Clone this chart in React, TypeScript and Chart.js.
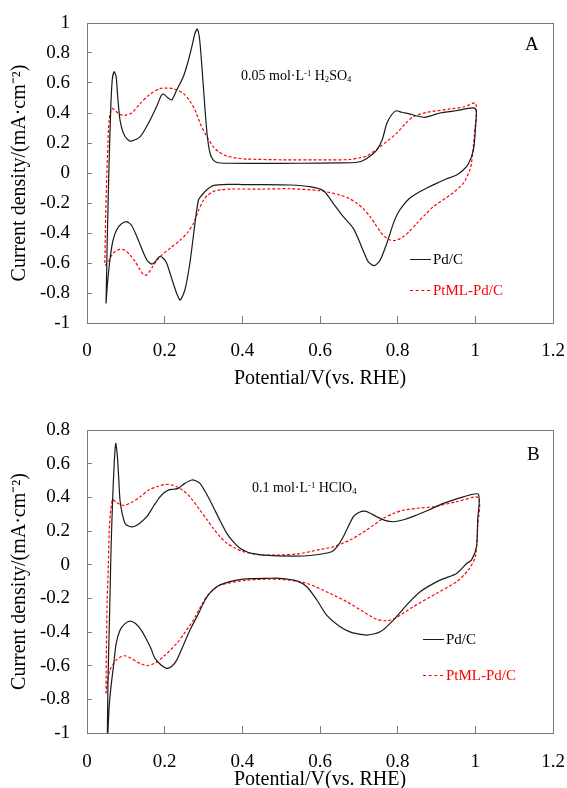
import React, { useEffect, useRef } from "react";
import { Chart, registerables } from "chart.js";
Chart.register(...registerables);

// ---------- Panel A: 0.05 mol/L H2SO4 ----------
const A_PD_V = [0.049, 0.052, 0.056, 0.061, 0.065, 0.070, 0.075, 0.079, 0.085, 0.094, 0.106, 0.115, 0.137, 0.158, 0.179, 0.192, 0.197, 0.207, 0.218, 0.231, 0.248, 0.26, 0.27, 0.278, 0.284, 0.29, 0.297, 0.304, 0.31, 0.317, 0.325, 0.335, 0.36, 0.45, 0.55, 0.65, 0.69, 0.707, 0.725, 0.746, 0.76, 0.772, 0.785, 0.797, 0.81, 0.832, 0.85, 0.87, 0.89, 0.909, 0.95, 1.0,
  1.0, 0.995, 0.982, 0.969, 0.952, 0.925, 0.90, 0.875, 0.849, 0.83, 0.815, 0.80, 0.789, 0.772, 0.755, 0.74, 0.724, 0.707, 0.686, 0.66, 0.634, 0.609, 0.574, 0.523, 0.45, 0.4, 0.368, 0.325, 0.308, 0.295, 0.287, 0.278, 0.265, 0.252, 0.24, 0.232, 0.222, 0.205, 0.195, 0.186, 0.176, 0.167, 0.154, 0.132, 0.115, 0.102, 0.088, 0.076, 0.066, 0.059, 0.053, 0.049];
const A_PD_J = [-0.87, -0.47, -0.02, 0.42, 0.62, 0.675, 0.642, 0.509, 0.353, 0.264, 0.22, 0.213, 0.242, 0.331, 0.442, 0.52, 0.527, 0.504, 0.487, 0.553, 0.642, 0.74, 0.842, 0.93, 0.96, 0.89, 0.67, 0.42, 0.242, 0.13, 0.087, 0.07, 0.065, 0.064, 0.065, 0.067, 0.07, 0.078, 0.105, 0.153, 0.22, 0.33, 0.39, 0.415, 0.405, 0.393, 0.38, 0.371, 0.385, 0.40, 0.415, 0.43,
  0.29, 0.153, 0.06, 0.02, -0.013, -0.04, -0.069, -0.1, -0.136, -0.17, -0.213, -0.27, -0.336, -0.469, -0.58, -0.618, -0.591, -0.491, -0.369, -0.291, -0.202, -0.118, -0.091, -0.08, -0.077, -0.077, -0.076, -0.084, -0.113, -0.15, -0.18, -0.336, -0.60, -0.78, -0.847, -0.81, -0.735, -0.60, -0.565, -0.558, -0.59, -0.607, -0.58, -0.447, -0.35, -0.324, -0.34, -0.38, -0.46, -0.58, -0.73, -0.87];

const A_PT_V = [0.046, 0.048, 0.051, 0.054, 0.057, 0.064, 0.075, 0.085, 0.098, 0.115, 0.137, 0.16, 0.188, 0.205, 0.222, 0.248, 0.265, 0.278, 0.29, 0.304, 0.325, 0.34, 0.36, 0.385, 0.411, 0.5, 0.626, 0.677, 0.70, 0.72, 0.755, 0.797, 0.82, 0.84, 0.875, 0.935, 0.97, 1.001,
  0.997, 0.99, 0.986, 0.969, 0.935, 0.892, 0.87, 0.849, 0.83, 0.815, 0.80, 0.789, 0.776, 0.765, 0.755, 0.742, 0.729, 0.712, 0.695, 0.675, 0.652, 0.60, 0.523, 0.45, 0.368, 0.345, 0.325, 0.31, 0.30, 0.287, 0.274, 0.258, 0.24, 0.215, 0.188, 0.17, 0.154, 0.145, 0.137, 0.124, 0.111, 0.098, 0.085, 0.074, 0.064, 0.055, 0.046];
const A_PT_J = [-0.60, -0.3, -0.02, 0.2, 0.353, 0.431, 0.41, 0.39, 0.384, 0.4, 0.464, 0.52, 0.564, 0.566, 0.562, 0.531, 0.48, 0.42, 0.34, 0.264, 0.176, 0.14, 0.113, 0.1, 0.093, 0.088, 0.087, 0.09, 0.1, 0.113, 0.176, 0.264, 0.33, 0.375, 0.404, 0.427, 0.44, 0.464,
  0.242, 0.064, 0.02, -0.069, -0.147, -0.224, -0.28, -0.336, -0.39, -0.424, -0.445, -0.451, -0.442, -0.42, -0.391, -0.34, -0.291, -0.24, -0.202, -0.17, -0.147, -0.118, -0.105, -0.107, -0.107, -0.112, -0.124, -0.15, -0.18, -0.25, -0.336, -0.40, -0.447, -0.50, -0.558, -0.62, -0.68, -0.675, -0.647, -0.59, -0.547, -0.515, -0.509, -0.52, -0.547, -0.59, -0.62];

// ---------- Panel B: 0.1 mol/L HClO4 ----------
const B_PD_V = [0.052, 0.054, 0.057, 0.059, 0.062, 0.066, 0.07, 0.074, 0.078, 0.082, 0.085, 0.091, 0.098, 0.108, 0.119, 0.135, 0.154, 0.172, 0.188, 0.2, 0.21, 0.222, 0.235, 0.25, 0.27, 0.281, 0.291, 0.308, 0.325, 0.343, 0.36, 0.377, 0.394, 0.41, 0.424, 0.454, 0.531, 0.58, 0.63, 0.645, 0.66, 0.686, 0.70, 0.716, 0.73, 0.746, 0.765, 0.789, 0.82, 0.849, 0.88, 0.918, 0.969, 1.008,
  1.006, 1.003, 0.99, 0.978, 0.952, 0.909, 0.858, 0.823, 0.789, 0.755, 0.72, 0.695, 0.677, 0.652, 0.617, 0.592, 0.566, 0.54, 0.497, 0.463, 0.42, 0.386, 0.355, 0.334, 0.318, 0.304, 0.285, 0.265, 0.248, 0.231, 0.218, 0.205, 0.19, 0.175, 0.165, 0.154, 0.14, 0.125, 0.111, 0.098, 0.085, 0.075, 0.068, 0.062, 0.057, 0.052];
const B_PD_J = [-1.1, -0.7, -0.4, -0.21, 0.1, 0.384, 0.6, 0.72, 0.65, 0.5, 0.384, 0.3, 0.245, 0.228, 0.225, 0.245, 0.285, 0.35, 0.403, 0.43, 0.443, 0.448, 0.453, 0.48, 0.503, 0.497, 0.483, 0.42, 0.344, 0.26, 0.186, 0.135, 0.097, 0.078, 0.067, 0.057, 0.051, 0.056, 0.077, 0.11, 0.166, 0.285, 0.31, 0.318, 0.305, 0.285, 0.265, 0.255, 0.27, 0.295, 0.325, 0.364, 0.403, 0.418,
  0.265, 0.106, 0.027, 0.008, -0.052, -0.092, -0.161, -0.24, -0.329, -0.399, -0.418, -0.41, -0.399, -0.369, -0.3, -0.21, -0.131, -0.096, -0.081, -0.081, -0.083, -0.092, -0.11, -0.131, -0.165, -0.21, -0.3, -0.389, -0.48, -0.567, -0.605, -0.616, -0.595, -0.557, -0.5, -0.448, -0.39, -0.35, -0.335, -0.35, -0.389, -0.47, -0.607, -0.72, -0.845, -1.1];

const B_PT_V = [0.049, 0.05, 0.052, 0.055, 0.057, 0.06, 0.066, 0.075, 0.094, 0.115, 0.137, 0.16, 0.18, 0.201, 0.215, 0.231, 0.248, 0.265, 0.291, 0.308, 0.325, 0.343, 0.36, 0.38, 0.403, 0.454, 0.54, 0.6, 0.634, 0.677, 0.72, 0.763, 0.79, 0.815, 0.85, 0.892, 0.952, 1.008,
  1.006, 1.0, 0.982, 0.952, 0.90, 0.84, 0.793, 0.772, 0.746, 0.712, 0.669, 0.626, 0.566, 0.497, 0.411, 0.343, 0.325, 0.308, 0.29, 0.274, 0.25, 0.231, 0.2, 0.175, 0.154, 0.14, 0.128, 0.112, 0.098, 0.085, 0.075, 0.059, 0.051, 0.049];
const B_PT_J = [-0.765, -0.5, -0.21, 0.0, 0.186, 0.3, 0.388, 0.37, 0.352, 0.37, 0.403, 0.445, 0.463, 0.477, 0.475, 0.463, 0.44, 0.403, 0.324, 0.27, 0.216, 0.165, 0.127, 0.1, 0.077, 0.057, 0.063, 0.09, 0.106, 0.146, 0.206, 0.275, 0.305, 0.324, 0.335, 0.344, 0.374, 0.398,
  0.225, 0.047, -0.032, -0.101, -0.171, -0.25, -0.319, -0.333, -0.325, -0.28, -0.22, -0.171, -0.111, -0.087, -0.092, -0.121, -0.15, -0.19, -0.26, -0.329, -0.41, -0.468, -0.54, -0.585, -0.60, -0.59, -0.577, -0.555, -0.541, -0.55, -0.567, -0.626, -0.725, -0.765];

const SERIES_NAMES = ["Pd/C", "PtML-Pd/C"];
const X_TITLE = "Potential/V(vs. RHE)";
const Y_TITLE = "Current density/(mA·cm⁻²)";

const FONT = "'Liberation Serif', 'Times New Roman', serif";
Chart.defaults.font.family = FONT;

const fmt = (v: number) => {
  const r = Math.round(v * 10) / 10;
  return r === 0 ? "0" : String(r);
};

const frame = {
  id: "frame",
  afterDatasetsDraw(chart: any) {
    const { ctx, chartArea: a } = chart;
    ctx.save();
    ctx.strokeStyle = "#7a7a7a";
    ctx.lineWidth = 1;
    ctx.strokeRect(Math.round(a.left) + 0.5, Math.round(a.top) + 0.5, Math.round(a.right - a.left), Math.round(a.bottom - a.top));
    ctx.restore();
  },
};

function pts(v: number[], j: number[]) {
  return v.map((x, i) => ({ x, y: j[i] }));
}

function makeConfig(pd: { x: number; y: number }[], pt: { x: number; y: number }[], yMin: number, yMax: number, padTop: number, xAxisH: number, xPad: number, xTitlePad: number): any {
  return {
    type: "scatter",
    data: {
      datasets: [
        { label: SERIES_NAMES[0], data: pd, showLine: true, pointRadius: 0, borderColor: "#1a1a1a", borderWidth: 1.2, tension: 0.25, fill: false },
        { label: SERIES_NAMES[1], data: pt, showLine: true, pointRadius: 0, borderColor: "#ff0000", borderWidth: 1.2, borderDash: [3, 2], tension: 0.25, fill: false },
      ],
    },
    options: {
      responsive: false,
      animation: false,
      devicePixelRatio: 1,
      layout: { padding: { top: padTop, right: 14, left: 0, bottom: 0 } },
      plugins: { legend: { display: false }, tooltip: { enabled: false } },
      scales: {
        x: {
          type: "linear", min: 0, max: 1.2,
          ticks: { stepSize: 0.2, color: "#000", font: { size: 19 }, padding: xPad, maxRotation: 0, autoSkip: false, callback: (v: number) => fmt(v) },
          grid: { drawOnChartArea: false, drawTicks: true, tickLength: -7, color: "#7a7a7a" },
          border: { display: false },
          title: { display: true, text: X_TITLE, color: "#000", font: { size: 20, lineHeight: 1 }, padding: { top: 0, bottom: xTitlePad } },
          afterFit: (s: any) => { s.height = xAxisH; s.paddingLeft = 0; s.paddingRight = 0; },
        },
        y: {
          type: "linear", min: yMin, max: yMax,
          ticks: { stepSize: 0.2, color: "#000", font: { size: 19 }, padding: 22, autoSkip: false, callback: (v: number) => fmt(v) },
          grid: { drawOnChartArea: false, drawTicks: true, tickLength: -5, color: "#7a7a7a" },
          border: { display: false },
          title: { display: true, text: Y_TITLE, color: "#000", font: { size: 20, lineHeight: 1 }, padding: { top: 10, bottom: 0 } },
          afterFit: (s: any) => { s.width = 87; s.paddingTop = 0; s.paddingBottom = 0; },
        },
      },
    },
    plugins: [frame],
  };
}

function Panel({ top, config }: { top: number; config: any }) {
  const ref = useRef<HTMLCanvasElement>(null);
  useEffect(() => {
    const c = new Chart(ref.current as HTMLCanvasElement, config);
    return () => c.destroy();
  }, []);
  return (
    <canvas ref={ref} width={567} height={394} style={{ position: "absolute", left: 0, top, width: 567, height: 394, display: "block" }} />
  );
}

const txt: React.CSSProperties = { position: "absolute", fontFamily: FONT, lineHeight: 1, whiteSpace: "nowrap", transform: "translateY(-50%)" };
const supS: React.CSSProperties = { fontSize: "0.62em", verticalAlign: "0.45em", lineHeight: 0 };
const subS: React.CSSProperties = { fontSize: "0.62em", verticalAlign: "-0.25em", lineHeight: 0 };

function Legend({ x, y1, y2 }: { x: number; y1: number; y2: number }) {
  return (
    <>
      <div style={{ position: "absolute", left: x, top: y1, width: 21, borderTop: "1px solid #1a1a1a" }} />
      <div style={{ ...txt, left: x + 23, top: y1, fontSize: 15, color: "#000" }}>{SERIES_NAMES[0]}</div>
      <div style={{ position: "absolute", left: x, top: y2, width: 20, borderTop: "1px dashed #ff0000" }} />
      <div style={{ ...txt, left: x + 23, top: y2, fontSize: 15, color: "#ff0000" }}>{SERIES_NAMES[1]}</div>
    </>
  );
}

export default function App() {
  const cfgA = makeConfig(pts(A_PD_V, A_PD_J), pts(A_PT_V, A_PT_J), -1, 1, 23, 71, 24, 5);
  const cfgB = makeConfig(pts(B_PD_V, B_PD_J), pts(B_PT_V, B_PT_J), -1, 0.8, 36, 55, 25, -2);
  return (
    <div style={{ position: "absolute", left: 0, top: 0, width: 567, height: 788, background: "#fff", overflow: "hidden" }}>
      <Panel top={0} config={cfgA} />
      <Panel top={394} config={cfgB} />
      <div style={{ ...txt, left: 241, top: 76, fontSize: 14 }}>
        0.05 mol·L<span style={supS}>-1</span> H<span style={subS}>2</span>SO<span style={subS}>4</span>
      </div>
      <div style={{ ...txt, left: 525, top: 43, fontSize: 19 }}>A</div>
      <Legend x={410} y1={259} y2={290} />
      <div style={{ ...txt, left: 252, top: 488, fontSize: 14 }}>
        0.1 mol·L<span style={supS}>-1</span> HClO<span style={subS}>4</span>
      </div>
      <div style={{ ...txt, left: 527, top: 453, fontSize: 19 }}>B</div>
      <Legend x={423} y1={639} y2={675} />
    </div>
  );
}
